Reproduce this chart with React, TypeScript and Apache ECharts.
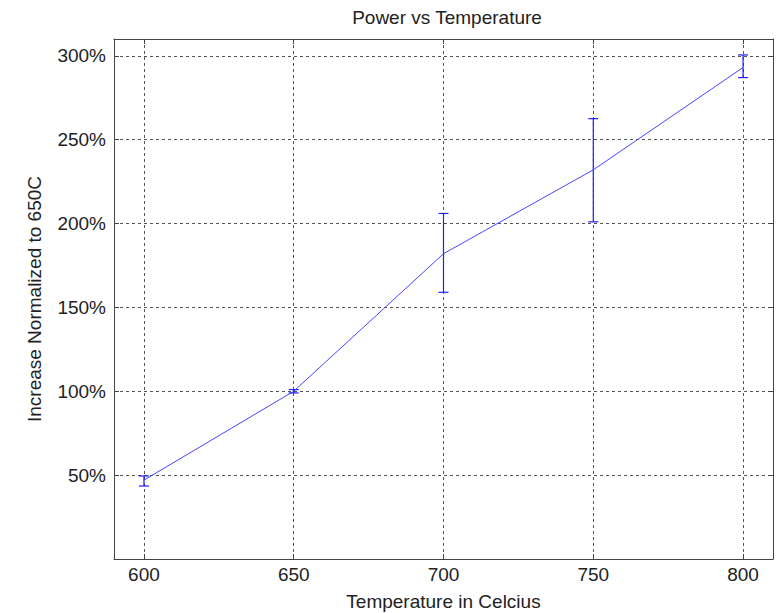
import React, { useEffect, useRef } from "react";
import * as echarts from "echarts";

const temps = [600, 650, 700, 750, 800];
const means = [47, 100, 182, 232, 293];
const lower = [43.5, 99, 159, 201, 287];
const upper = [49.5, 101, 206, 262.5, 300.5];
const xTicks = [600, 650, 700, 750, 800];
const yTicks = [50, 100, 150, 200, 250, 300];

const FONT = "'Liberation Sans', Arial, sans-serif";
const FS = 19;

export default function App() {
  const ref = useRef<HTMLDivElement>(null);
  useEffect(() => {
    if (!ref.current) return;
    const chart = echarts.init(ref.current, null, { renderer: "svg" });
    const grid = { left: 114, right: 5, top: 39, bottom: 54 };
    const dash = { color: "#555", width: 1, type: [3, 3] as number[] };
    const baseX = {
      type: "value" as const,
      min: 590,
      max: 810,
      splitNumber: 4,
      axisLine: { show: true, onZero: false, lineStyle: { color: "#444", width: 1 } },
      axisTick: { show: true, inside: true, length: 5, lineStyle: { color: "#444" } },
    };
    const baseY = {
      type: "value" as const,
      min: 0,
      max: 310,
      interval: 50,
      axisLine: { show: true, onZero: false, lineStyle: { color: "#444", width: 1 } },
      axisTick: { show: true, inside: true, length: 5, lineStyle: { color: "#444" } },
    };
    const errData = temps.map((t, i) => [t, lower[i], upper[i]]);
    chart.setOption({
      animation: false,
      textStyle: { fontFamily: FONT },
      title: {
        text: "Power vs Temperature",
        left: 442,
        top: 3,
        textAlign: "center",
        textStyle: { fontSize: FS, fontWeight: "normal", color: "#222", fontFamily: FONT },
      },
      grid: { ...grid, show: false, containLabel: false, outerBoundsMode: "none" },
      xAxis: [
        {
          ...baseX,
          position: "bottom",
          name: "Temperature in Celcius",
          nameLocation: "middle",
          nameGap: 33,
          nameTextStyle: { fontSize: FS, color: "#222", fontFamily: FONT },
          axisLabel: {
            fontSize: FS,
            color: "#222",
            margin: 6,
            fontFamily: FONT,
            formatter: (v: number) => (xTicks.includes(v) ? String(v) : ""),
          },
          splitLine: { show: true, lineStyle: dash },
        },
        {
          ...baseX,
          position: "top",
          axisLabel: { show: false },
          splitLine: { show: false },
        },
      ],
      yAxis: [
        {
          ...baseY,
          position: "left",
          name: "Increase Normalized to 650C",
          nameLocation: "middle",
          nameGap: 70,
          nameTextStyle: { fontSize: FS, color: "#222", fontFamily: FONT },
          axisLabel: {
            fontSize: FS,
            color: "#222",
            margin: 8,
            fontFamily: FONT,
            formatter: (v: number) => (yTicks.includes(v) ? v + "%" : ""),
          },
          splitLine: { show: true, lineStyle: dash },
        },
        {
          ...baseY,
          position: "right",
          axisLabel: { show: false },
          splitLine: { show: false },
        },
      ],
      series: [
        {
          type: "line",
          data: temps.map((t, i) => [t, means[i]]),
          showSymbol: false,
          lineStyle: { color: "#4646ff", width: 1 },
          z: 3,
        },
        {
          type: "custom",
          data: errData,
          z: 4,
          renderItem: (params: any, api: any) => {
            const x = api.value(0);
            const lo = api.coord([x, api.value(1)]);
            const hi = api.coord([x, api.value(2)]);
            const w = 5;
            const style = { stroke: "#2020ff", lineWidth: 1.2 };
            return {
              type: "group",
              children: [
                { type: "line", shape: { x1: lo[0], y1: lo[1], x2: hi[0], y2: hi[1] }, style },
                { type: "line", shape: { x1: lo[0] - w, y1: lo[1], x2: lo[0] + w, y2: lo[1] }, style },
                { type: "line", shape: { x1: hi[0] - w, y1: hi[1], x2: hi[0] + w, y2: hi[1] }, style },
              ],
            };
          },
        },
      ],
    });
    return () => chart.dispose();
  }, []);
  return (
    <div
      ref={ref}
      style={{ position: "fixed", left: 0, top: 0, width: 778, height: 613, background: "#fff" }}
    />
  );
}
